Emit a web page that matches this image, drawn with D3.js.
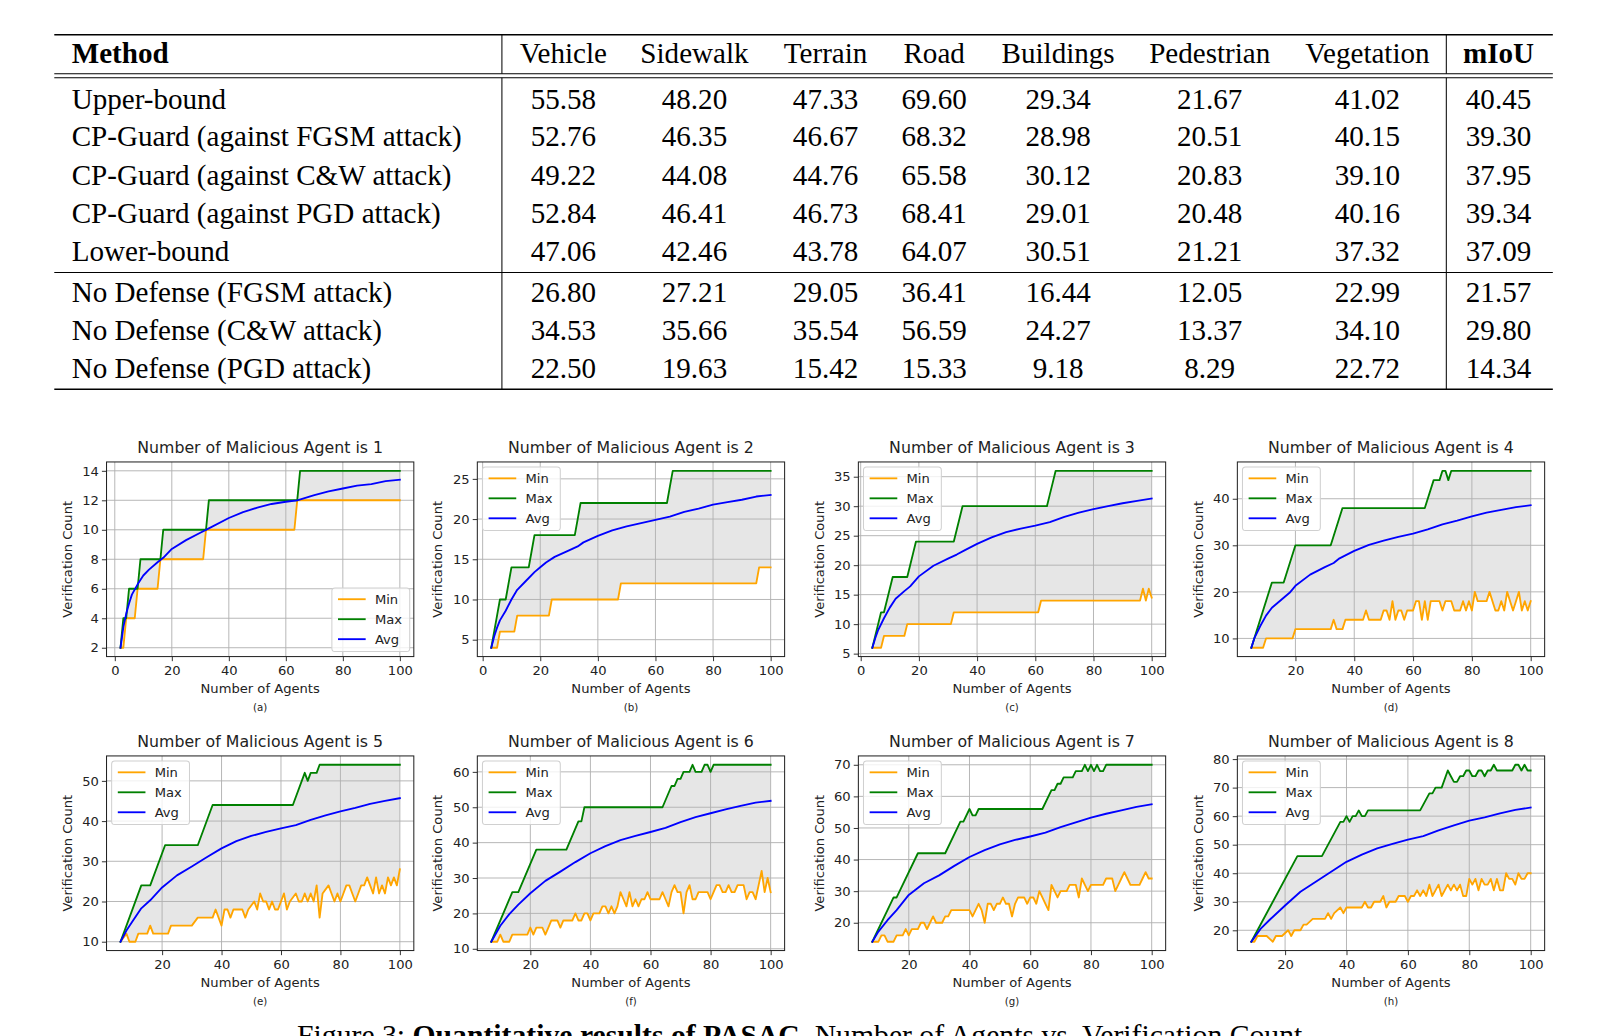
<!DOCTYPE html>
<html><head><meta charset="utf-8">
<script src="https://cdn.jsdelivr.net/npm/d3@7"></script>
<style>body{margin:0;background:#fff}svg{display:block}</style>
</head><body>
<svg id="c" width="1605" height="1036"></svg>
<script>
// ---------------- TABLE DATA ----------------
const tableHeaders = ["Method","Vehicle","Sidewalk","Terrain","Road","Buildings","Pedestrian","Vegetation","mIoU"];
const tableMethods = ["Upper-bound","CP-Guard (against FGSM attack)","CP-Guard (against C&W attack)","CP-Guard (against PGD attack)","Lower-bound","No Defense (FGSM attack)","No Defense (C&W attack)","No Defense (PGD attack)"];
const tableValues = [
 ["55.58","48.20","47.33","69.60","29.34","21.67","41.02","40.45"],
 ["52.76","46.35","46.67","68.32","28.98","20.51","40.15","39.30"],
 ["49.22","44.08","44.76","65.58","30.12","20.83","39.10","37.95"],
 ["52.84","46.41","46.73","68.41","29.01","20.48","40.16","39.34"],
 ["47.06","42.46","43.78","64.07","30.51","21.21","37.32","37.09"],
 ["26.80","27.21","29.05","36.41","16.44","12.05","22.99","21.57"],
 ["34.53","35.66","35.54","56.59","24.27","13.37","34.10","29.80"],
 ["22.50","19.63","15.42","15.33","9.18","8.29","22.72","14.34"]
];

// ---------------- PLOT DATA ----------------
const maliciousCounts = [1,2,3,4,5,6,7,8];
const panelLetters = ["(a)","(b)","(c)","(d)","(e)","(f)","(g)","(h)"];
const xTicksList = [[0,20,40,60,80,100],[0,20,40,60,80,100],[0,20,40,60,80,100],[20,40,60,80,100],[20,40,60,80,100],[20,40,60,80,100],[20,40,60,80,100],[20,40,60,80,100]];
const yTicksList = [[2,4,6,8,10,12,14],[5,10,15,20,25],[5,10,15,20,25,30,35],[10,20,30,40],[10,20,30,40,50],[10,20,30,40,50,60],[20,30,40,50,60,70],[20,30,40,50,60,70,80]];
const legendPos = ["lower right","upper left","upper left","upper left","upper left","upper left","upper left","upper left"];

// vertices [x, y]
const minA = [[2,2],[3,2],[4,4],[7,4],[8,6],[15,6],[16,8],[31,8],[32,10],[63,10],[64,12],[100,12]];
const maxA = [[2,2],[3,4],[4,4],[5,6],[8,6],[9,8],[16,8],[17,10],[32,10],[33,12],[64,12],[65,14],[100,14]];
const avgA = [[2,2],[3,3.4],[4,4.3],[5,5],[6,5.6],[8,6.3],[10,6.9],[12,7.3],[15,7.8],[17,8.1],[20,8.7],[25,9.3],[30,9.8],[33,10.1],[40,10.8],[45,11.2],[50,11.5],[55,11.75],[60,11.9],[64,12.0],[70,12.35],[75,12.6],[80,12.8],[85,13.0],[90,13.1],[95,13.3],[100,13.4]];

const minB = [[3,4],[5,4],[6,6],[11,6],[12,8],[23,8],[24,10],[47,10],[48,12],[95,12],[96,14],[100,14]];
const maxB = [[3,4],[4,6],[5,8],[6,10],[8,10],[9,12],[10,14],[16,14],[17,16],[18,18],[32,18],[33,20],[34,22],[64,22],[65,24],[66,26],[100,26]];
const avgB = [[3,4],[4,5.4],[5,6.5],[6,7.4],[8,8.6],[10,10],[12,11.2],[15,12.3],[18,13.4],[20,14],[22,14.6],[25,15.3],[30,16.1],[33,16.6],[35,17.1],[40,17.9],[45,18.6],[50,19.1],[55,19.5],[60,19.9],[65,20.3],[70,20.9],[75,21.3],[80,21.8],[85,22.1],[90,22.4],[95,22.8],[100,23.0]];

const minC = [[4,6],[7,6],[8,8],[15,8],[16,10],[31,10],[32,12],[61,12],[62,14],[96,14],[97,16],[98,14],[99,16],[100,14.5]];
const maxC = [[4,6],[5,8],[6,10],[7,12],[8,12],[9,14],[10,16],[11,18],[16,18],[17,20],[18,22],[19,24],[32,24],[33,26],[34,28],[35,30],[64,30],[65,32],[66,34],[67,36],[100,36]];
const avgC = [[4,6],[5,7.6],[6,9],[8,11],[10,12.8],[12,14.3],[15,15.6],[17,16.4],[20,18.1],[25,19.9],[30,21.1],[33,21.8],[36,22.6],[40,23.6],[45,24.7],[50,25.6],[55,26.2],[60,26.7],[65,27.3],[70,28.2],[75,28.9],[80,29.5],[85,30.0],[90,30.5],[95,30.9],[100,31.3]];

const minD = [[5,8],[9,8],[10,10],[19,10],[20,12],[32,12],[33,14],[34,12],[36,12],[37,14],[43,14],[44,16],[45,14],[49,14],[50,16],[51,16],[52,14],[53,18],[54,14],[55,16],[56,16],[57,14],[58,16],[60,16],[61,18],[62,18],[63,14],[64,18],[65,14],[66,18],[69,18],[70,16],[71,18],[73,18],[74,16],[76,16],[77,18],[78,16],[79,18],[80,16],[81,20],[82,18],[85,18],[86,20],[88,16],[89,16],[90,18],[91,16],[92,20],[93,18],[94,16],[95,18],[96,20],[97,16],[98,18],[99,16],[100,18]];
const maxD = [[5,8],[12,22],[16,22],[20,30],[32,30],[36,38],[64,38],[67,44],[69,44],[70,46],[71,46],[72,44],[73,46],[100,46]];
const avgD = [[5,8],[6,10],[8,12.6],[10,14.9],[12,16.6],[15,18.2],[18,19.8],[20,21.3],[25,23.7],[30,25.3],[33,26.2],[35,27.2],[40,28.8],[45,30.1],[50,31.0],[55,31.8],[60,32.5],[65,33.4],[70,34.5],[75,35.3],[80,36.2],[85,37.0],[90,37.6],[95,38.2],[100,38.6]];

const minE = [[6,10],[8,12],[9,10],[11,10],[12,12],[15,12],[16,14],[17,12],[22,12],[23,14],[30,14],[32,16],[37,16],[38,18],[40,14],[41,18],[42,18],[43,16],[44,18],[47,18],[48,16],[49,18],[51,20],[52,18],[53,22],[54,20],[55,20],[56,18],[57,20],[58,18],[59,18],[60,20],[61,22],[62,18],[63,20],[65,22],[66,20],[67,20],[68,22],[69,20],[70,22],[71,20],[72,24],[73,16],[74,22],[76,24],[77,22],[78,20],[79,22],[80,20],[81,22],[82,24],[83,24],[84,22],[85,20],[86,22],[87,24],[88,24],[89,26],[90,24],[91,22],[92,26],[93,22],[94,24],[95,22],[96,26],[97,24],[98,26],[99,24],[100,28]];
const maxE = [[6,10],[13,24],[16,24],[21,34],[32,34],[37,44],[64,44],[68,52],[69,50],[70,52],[72,52],[73,54],[100,54]];
const avgE = [[6,10],[8,12.8],[10,15],[13,18.3],[16,20.3],[20,23.5],[25,26.5],[30,28.7],[35,31],[40,33.2],[45,35],[50,36.3],[55,37.3],[60,38.2],[65,39],[70,40.3],[75,41.4],[80,42.4],[85,43.3],[90,44.3],[95,45],[100,45.7]];

const minF = [[7,12],[9,12],[10,14],[11,12],[13,12],[14,14],[19,14],[20,16],[21,14],[22,16],[24,16],[25,14],[26,16],[27,18],[29,18],[30,16],[31,18],[34,18],[35,20],[36,18],[37,18],[38,20],[39,20],[40,18],[41,20],[43,20],[44,22],[45,22],[46,20],[47,22],[48,20],[49,22],[50,26],[51,24],[52,22],[53,26],[54,22],[55,24],[56,22],[57,24],[58,24],[59,26],[60,24],[63,24],[64,26],[65,24],[66,22],[67,26],[68,28],[69,26],[70,26],[71,20],[72,26],[73,28],[74,24],[75,24],[76,26],[79,26],[80,24],[81,26],[82,28],[83,28],[84,26],[85,26],[86,28],[87,26],[88,26],[89,28],[91,28],[92,24],[93,26],[94,26],[95,24],[96,28],[97,32],[98,26],[99,30],[100,26]];
const maxF = [[7,12],[14,26],[16,26],[22,38],[32,38],[36,46],[37,46],[38,50],[64,50],[67,56],[68,56],[69,58],[70,58],[71,60],[73,60],[74,62],[75,60],[77,60],[78,62],[79,62],[80,60],[81,62],[100,62]];
const avgF = [[7,12],[10,16.5],[13,19.8],[16,22.5],[20,25.7],[25,29.2],[30,31.8],[35,34.5],[40,37],[45,39],[50,40.7],[55,41.9],[60,43],[65,44.2],[70,45.8],[75,47.2],[80,48.3],[85,49.4],[90,50.4],[95,51.3],[100,51.8]];

const minG = [[8,14],[10,14],[11,16],[12,16],[13,14],[15,14],[16,16],[18,16],[19,18],[20,16],[21,18],[23,18],[24,20],[25,20],[26,18],[27,20],[28,22],[29,20],[31,20],[32,22],[33,22],[34,24],[40,24],[41,22],[43,26],[44,24],[45,20],[46,26],[47,26],[48,24],[49,26],[50,26],[51,28],[52,26],[53,26],[54,22],[55,26],[56,28],[58,28],[59,26],[60,28],[61,28],[62,26],[63,30],[64,28],[65,26],[66,24],[67,32],[68,30],[69,28],[70,30],[72,30],[73,32],[75,32],[76,28],[77,34],[78,32],[79,30],[80,32],[84,32],[85,34],[87,34],[88,30],[89,32],[90,34],[91,36],[92,34],[93,32],[96,32],[97,34],[98,36],[99,34],[100,34]];
const maxG = [[8,14],[15,28],[16,28],[23,42],[32,42],[37,52],[38,52],[40,56],[41,54],[42,54],[43,56],[64,56],[67,62],[68,62],[69,64],[70,64],[71,66],[74,66],[75,68],[77,68],[78,70],[79,68],[80,70],[81,68],[82,70],[83,68],[84,68],[85,70],[100,70]];
const avgG = [[8,14],[10,17.2],[13,20.8],[16,24],[20,28.8],[25,32.5],[30,35],[35,38],[40,40.8],[45,43],[50,44.8],[55,46.2],[60,47.3],[65,48.5],[70,50.3],[75,51.8],[80,53.3],[85,54.5],[90,55.6],[95,56.7],[100,57.5]];

const minH = [[9,16],[10,16],[11,18],[14,18],[15,17],[16,16],[17,18],[19,18],[21,20],[22,18],[23,20],[25,20],[26,22],[27,22],[29,24],[33,24],[34,26],[35,24],[36,26],[38,28],[39,26],[40,28],[45,28],[46,30],[47,28],[48,28],[49,30],[51,30],[52,32],[53,28],[54,30],[56,30],[57,32],[59,32],[60,30],[61,32],[62,32],[63,34],[64,32],[65,34],[66,32],[67,36],[68,32],[69,34],[70,36],[71,32],[72,34],[73,36],[74,34],[75,36],[76,34],[77,36],[78,32],[79,32],[80,38],[81,36],[82,38],[83,34],[84,38],[85,36],[86,36],[87,38],[88,34],[89,38],[90,34],[91,34],[92,40],[93,38],[94,38],[95,36],[96,40],[97,38],[98,38],[99,40],[100,40]];
const maxH = [[9,16],[24,46],[32,46],[38,58],[39,58],[40,60],[41,58],[42,60],[43,60],[44,62],[45,60],[46,60],[47,62],[64,62],[67,68],[68,68],[69,70],[71,70],[73,76],[74,74],[75,72],[76,72],[77,74],[78,74],[79,76],[80,76],[81,74],[82,74],[83,76],[84,76],[85,74],[86,76],[87,76],[88,78],[89,76],[94,76],[95,78],[96,78],[97,76],[98,78],[99,76],[100,76]];
const avgH = [[9,16],[12,20.5],[15,23.7],[20,28.7],[25,33.5],[30,37],[35,40.5],[40,44],[45,46.5],[50,48.7],[55,50.3],[60,51.8],[65,53],[70,55],[75,56.8],[80,58.4],[85,59.6],[90,61],[95,62.2],[100,63]];

const minSeries = [minA,minB,minC,minD,minE,minF,minG,minH];
const maxSeries = [maxA,maxB,maxC,maxD,maxE,maxF,maxG,maxH];
const avgSeries = [avgA,avgB,avgC,avgD,avgE,avgF,avgG,avgH];

const seriesNames = ["Min","Max","Avg"];
const seriesColors = ["#FFA500","#008000","#0000FF"];

// ---------------- DRAW ----------------
const svgRoot = d3.select("#c");
svgRoot.append("rect").attr("width",1605).attr("height",1036).attr("fill","#fff");
const svg = svgRoot.append("g").attr("transform","scale(1.0243)");

// Table
(function(){
  const serif = "'Liberation Serif','Times New Roman',serif";
  const L = 53, R = 1516;
  const colX = [70,550,678,806,912,1033,1181,1335,1463];
  const headerY = 52;
  const rowY = [96,133,171,208,245,285,322,359];
  const g = svg.append("g").attr("font-family",serif).attr("font-size",28.4).attr("fill","#000");
  const line = (x1,y1,x2,y2,w)=>g.append("line").attr("x1",x1).attr("y1",y1).attr("x2",x2).attr("y2",y2).attr("stroke","#000").attr("stroke-width",w);
  line(L,34,R,34,1.5);
  line(L,72,R,72,1.0);
  line(L,76,R,76,1.0);
  line(L,266,R,266,1.0);
  line(L,380,R,380,1.5);
  [490,1412].forEach(x=>{ line(x,34,x,72,1.0); line(x,76,x,380,1.0); });
  tableHeaders.forEach((h,i)=>{
    g.append("text").attr("x",colX[i]).attr("y",headerY).attr("dy","0.35em")
     .attr("text-anchor", i===0?"start":"middle")
     .attr("font-weight",(i===0||i===8)?"bold":"normal").text(h);
  });
  tableMethods.forEach((m,r)=>{
    g.append("text").attr("x",colX[0]).attr("y",rowY[r]).attr("dy","0.35em").text(m);
    tableValues[r].forEach((v,c)=>{
      g.append("text").attr("x",colX[c+1]).attr("y",rowY[r]).attr("dy","0.35em").attr("text-anchor","middle").text(v);
    });
  });
})();

// Plots
const sans = "'DejaVu Sans',sans-serif";
const colLeft = [104,466,838,1208];
const axW = 300, axH = 190;
const rowTop = [451,738];
const tickFs = 12.8;

maliciousCounts.forEach((m,i)=>{
  const col = i%4, row = Math.floor(i/4);
  const left = colLeft[col], top = rowTop[row];
  const mn = minSeries[i], mx = maxSeries[i], av = avgSeries[i];
  const allPts = mn.concat(mx, av);
  const xe = d3.extent(allPts, d=>d[0]), ye = d3.extent(allPts, d=>d[1]);
  const xs = xe[1]-xe[0], ys = ye[1]-ye[0];
  const x = d3.scaleLinear().domain([xe[0]-0.05*xs, xe[1]+0.05*xs]).range([left, left+axW]);
  const y = d3.scaleLinear().domain([ye[0]-0.05*ys, ye[1]+0.05*ys]).range([top+axH, top]);
  const g = svg.append("g").attr("font-family",sans).attr("fill","#000");
  const cid = "clip"+i;
  g.append("clipPath").attr("id",cid).append("rect").attr("x",left).attr("y",top).attr("width",axW).attr("height",axH);
  const plot = g.append("g").attr("clip-path",`url(#${cid})`);

  const ln = d3.line().x(d=>x(d[0])).y(d=>y(d[1]));
  const poly = mx.concat(mn.slice().reverse());
  plot.append("path").attr("d", ln(poly)+"Z").attr("fill","#808080").attr("fill-opacity",0.2).attr("stroke","none");

  xTicksList[i].forEach(t=>plot.append("line").attr("x1",x(t)).attr("x2",x(t)).attr("y1",top).attr("y2",top+axH).attr("stroke","#b0b0b0").attr("stroke-width",0.9));
  yTicksList[i].forEach(t=>plot.append("line").attr("y1",y(t)).attr("y2",y(t)).attr("x1",left).attr("x2",left+axW).attr("stroke","#b0b0b0").attr("stroke-width",0.9));

  [mn,mx,av].forEach((s,k)=>{
    plot.append("path").attr("d",ln(s)).attr("fill","none").attr("stroke",seriesColors[k]).attr("stroke-width",1.8).attr("stroke-linejoin","round").attr("stroke-linecap","square");
  });

  const xAxis = d3.axisBottom(x).tickValues(xTicksList[i]).tickSize(4.5).tickPadding(4.5).tickFormat(d3.format("d"));
  const yAxis = d3.axisLeft(y).tickValues(yTicksList[i]).tickSize(4.5).tickPadding(3).tickFormat(d3.format("d"));
  const gx = g.append("g").attr("transform",`translate(0,${top+axH})`).call(xAxis);
  const gy = g.append("g").attr("transform",`translate(${left},0)`).call(yAxis);
  [gx,gy].forEach(a=>{
    a.select(".domain").remove();
    a.selectAll("text").attr("font-family",sans).attr("font-size",tickFs).attr("fill","#222");
    a.selectAll("line").attr("stroke","#222").attr("stroke-width",0.9);
  });
  g.append("rect").attr("x",left).attr("y",top).attr("width",axW).attr("height",axH).attr("fill","none").attr("stroke","#222").attr("stroke-width",1);

  g.append("text").attr("x",left+axW/2).attr("y",top-8.5).attr("text-anchor","middle").attr("font-size",15.4).attr("fill","#222").text(`Number of Malicious Agent is ${m}`);
  g.append("text").attr("x",left+axW/2).attr("y",top+axH+36).attr("text-anchor","middle").attr("font-size",tickFs).attr("fill","#222").text("Number of Agents");
  g.append("text").attr("transform",`translate(${left-34},${top+axH/2}) rotate(-90)`).attr("text-anchor","middle").attr("font-size",tickFs).attr("fill","#222").text("Verification Count");
  g.append("text").attr("x",left+axW/2).attr("y",top+axH+53).attr("text-anchor","middle").attr("font-size",10).attr("fill","#222").text(panelLetters[i]);

  const lw = 76, lh = 62;
  const lx = legendPos[i]==="upper left" ? left+5 : left+axW-4-lw;
  const ly = legendPos[i]==="upper left" ? top+5 : top+axH-5-lh;
  const lg = g.append("g");
  lg.append("rect").attr("x",lx).attr("y",ly).attr("width",lw).attr("height",lh).attr("rx",3)
    .attr("fill","#fff").attr("fill-opacity",0.8).attr("stroke","#d0d0d0").attr("stroke-width",1);
  seriesNames.forEach((n,k)=>{
    const yy = ly+11+k*19.5;
    lg.append("line").attr("x1",lx+6).attr("x2",lx+33).attr("y1",yy).attr("y2",yy).attr("stroke",seriesColors[k]).attr("stroke-width",1.8);
    lg.append("text").attr("x",lx+42).attr("y",yy).attr("dy","0.35em").attr("font-size",tickFs).attr("fill","#222").text(n);
  });
});

// Figure caption (cut off at bottom of page)
const cap = svg.append("text").attr("x",290).attr("y",1020).attr("font-family","'Liberation Serif','Times New Roman',serif").attr("font-size",29).attr("fill","#000");
cap.append("tspan").text("Figure 3: ");
cap.append("tspan").attr("font-weight","bold").text("Quantitative results of PASAC.");
cap.append("tspan").text(" Number of Agents vs. Verification Count");
</script>
</body></html>
